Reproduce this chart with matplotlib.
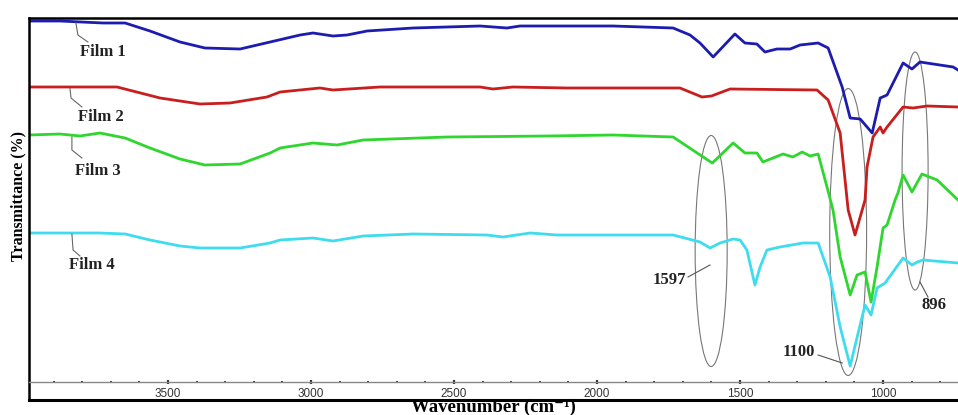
import matplotlib
matplotlib.use('Agg')
import matplotlib.pyplot as plt
from matplotlib.patches import Ellipse
from matplotlib.ticker import MultipleLocator

# ---- data (wavenumber, offset transmittance a.u.) ----
film1_wn = [3986, 3878, 3727, 3650, 3563, 3458, 3371, 3248, 3143, 3038, 2993, 2923, 2874, 2804,
            2643, 2409, 2315, 2269, 1944, 1734, 1675, 1640, 1594, 1518, 1483, 1441, 1413, 1371,
            1325, 1290, 1227, 1192, 1143, 1115, 1080, 1038, 1010, 986, 930, 899, 871, 755, 738]
film1_t = [379, 379, 377, 377, 369, 358, 352, 351, 358, 365, 367, 364, 365, 369,
           372, 374, 372, 374, 374, 372, 365, 357, 343, 366, 357, 356, 348, 351,
           351, 355, 357, 352, 313, 282, 281, 267, 302, 305, 337, 331, 338, 333, 330]

film2_wn = [3986, 3878, 3808, 3678, 3528, 3388, 3283, 3154, 3108, 2969, 2923, 2759, 2409, 2364,
            2294, 2105, 1734, 1710, 1633, 1600, 1535, 1231, 1192, 1150, 1122, 1098, 1063, 1056,
            1035, 1010, 1000, 986, 930, 895, 846, 738]
film2_t = [313, 313, 313, 313, 302, 296, 297, 303, 308, 312, 310, 313, 313, 311,
           313, 312, 312, 312, 303, 304, 311, 310, 300, 267, 190, 165, 200, 233,
           263, 273, 267, 273, 293, 292, 294, 293]

film3_wn = [3986, 3878, 3808, 3738, 3650, 3563, 3458, 3371, 3248, 3143, 3108, 2993, 2909, 2818,
            2524, 2175, 1944, 1734, 1650, 1597, 1524, 1483, 1441, 1420, 1350, 1315, 1283, 1255,
            1227, 1196, 1175, 1150, 1115, 1091, 1063, 1042, 1021, 1000, 986, 958, 948, 930,
            899, 864, 811, 738]
film3_t = [265, 266, 264, 267, 262, 252, 241, 235, 236, 247, 252, 257, 255, 260,
           263, 264, 265, 263, 247, 237, 257, 247, 247, 238, 246, 243, 248, 244,
           246, 213, 190, 143, 105, 125, 128, 98, 133, 172, 175, 200, 207, 225,
           208, 226, 220, 200]

film4_wn = [3986, 3878, 3738, 3650, 3563, 3458, 3388, 3248, 3143, 3108, 2993, 2923, 2818, 2643,
            2385, 2329, 2234, 2140, 1734, 1640, 1605, 1570, 1524, 1500, 1476, 1448, 1430, 1406,
            1360, 1280, 1227, 1185, 1150, 1115, 1087, 1063, 1042, 1021, 993, 930, 899, 880,
            860, 738]
film4_t = [167, 167, 167, 166, 160, 154, 152, 152, 157, 160, 162, 159, 164, 166,
           165, 163, 167, 165, 165, 158, 152, 157, 161, 160, 150, 115, 133, 150,
           153, 157, 157, 123, 73, 34, 67, 95, 85, 112, 117, 142, 135, 138,
           140, 137]

films = ['Film 1', 'Film 2', 'Film 3', 'Film 4']
colors = ['#1c1cae', '#c81e1e', '#2ed62e', '#3edcee']

# label text position and leader line points for each film
label_xy = [(3808, 348), (3815, 283), (3825, 229), (3846, 135)]
leader_x = [[3822, 3815, 3780], [3843, 3839, 3801], [3836, 3836, 3801], [3836, 3832, 3808]]
leader_y = [[377, 365, 358], [312, 302, 293], [263, 250, 242], [166, 150, 144]]

# highlighted bands (center wavenumber, center y, width, height)
band_labels = ['1597', '1100', '896']
band_center = [(1601, 149), (1122, 168), (888, 229)]
band_size = [(112, 231), (129, 287), (91, 238)]
band_text_xy = [(1689, 120), (1238, 48), (864, 95)]
band_text_ha = ['right', 'right', 'left']
band_line_x = [[1682, 1605], [1227, 1143], [871, 843]]
band_line_y = [[123, 135], [45, 37], [118, 103]]

serif = ['Liberation Serif', 'DejaVu Serif']

fig = plt.figure(figsize=(9.58, 4.15), dpi=100)
ax = fig.add_axes([29 / 958, 1 - 400 / 415, 1 - 29 / 958, 382 / 415])

wns = [film1_wn, film2_wn, film3_wn, film4_wn]
ts = [film1_t, film2_t, film3_t, film4_t]
for wn, t, c in zip(wns, ts, colors):
    ax.plot(wn, t, color=c, lw=2.0, solid_joinstyle='round')

for name, (tx, ty), lx, ly in zip(films, label_xy, leader_x, leader_y):
    ax.plot(lx, ly, color='#666666', lw=0.8)
    ax.text(tx, ty, name, fontsize=12, fontweight='bold', family=serif,
            ha='left', va='center', color='#222222')

for lab, cen, size, txy, ha, lx, ly in zip(band_labels, band_center, band_size,
                                           band_text_xy, band_text_ha, band_line_x, band_line_y):
    ax.add_patch(Ellipse(cen, size[0], size[1], fill=False, edgecolor='#777777', lw=0.8))
    ax.plot(lx, ly, color='#555555', lw=0.8)
    ax.text(txy[0], txy[1], lab, fontsize=12, fontweight='bold', family=serif,
            ha=ha, va='center', color='#222222')

ax.set_xlim(3986, 738)
ax.set_ylim(0, 382)

# inner gray axis line carrying the ticks, black frame below it
ax.spines['bottom'].set_position(('data', 18))
ax.spines['bottom'].set_color('#888888')
ax.spines['bottom'].set_linewidth(1.0)
ax.spines['right'].set_visible(False)
ax.spines['left'].set_linewidth(1.8)
ax.spines['top'].set_linewidth(1.8)
ax.axhline(0, color='black', lw=2.2, clip_on=False)

ax.xaxis.set_major_locator(MultipleLocator(500))
ax.xaxis.set_minor_locator(MultipleLocator(100))
ax.tick_params(axis='x', which='major', direction='inout', length=3.5, width=1.6,
               color='#333333', pad=2.5, labelsize=8.5, labelcolor='#333333')
ax.tick_params(axis='x', which='minor', direction='inout', length=2, width=1.4, color='#333333')
for lbl in ax.get_xticklabels():
    lbl.set_family('Liberation Sans')
ax.set_yticks([])

ax.set_xlabel('Wavenumber (cm\u207b\u00b9)', fontsize=13.5, fontweight='bold', family=serif)
ax.xaxis.set_label_coords(0.5, -0.030)
ax.xaxis.label.set_va('baseline')
ax.set_ylabel('Transmittance (%)', fontsize=11.5, fontweight='bold', family=serif)
ax.yaxis.set_label_coords(-0.0118, 0.534)
ax.yaxis.label.set_va('center')

fig.savefig('out.png', dpi=100)
